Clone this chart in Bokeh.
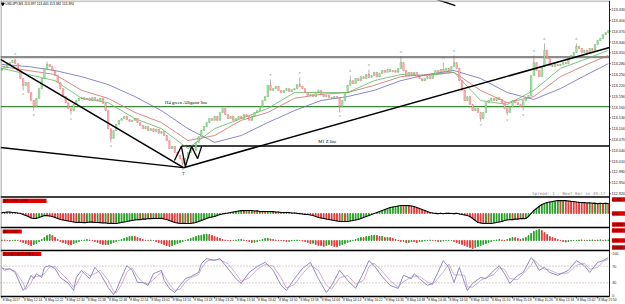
from bokeh.plotting import figure
from bokeh.models import Range1d
from bokeh.core.properties import value
from bokeh.embed import file_html
from bokeh.resources import INLINE

# ---------------- data ----------------
chart_title = "USDJPY,M1  113.397 113.405 113.381 113.394"
spread_text = "Spread: 1 ;  Next Bar in 49:17"
first_open = 113.262
closes = [
    113.267, 113.272, 113.278, 113.283, 113.289, 113.280, 113.261, 113.239, 113.220, 113.228,
    113.200, 113.178, 113.161, 113.184, 113.211, 113.239, 113.267, 113.278, 113.272, 113.261,
    113.247, 113.228, 113.211, 113.189, 113.172, 113.156, 113.150, 113.167, 113.178, 113.184,
    113.186, 113.181, 113.184, 113.178, 113.186, 113.181, 113.178, 113.184, 113.170, 113.150,
    113.100, 113.073, 113.095, 113.112, 113.123, 113.128, 113.134, 113.125, 113.120, 113.123,
    113.128, 113.117, 113.109, 113.100, 113.106, 113.095, 113.100, 113.092, 113.098, 113.087,
    113.092, 113.081, 113.067, 113.045, 113.051, 113.034, 113.026, 113.017, 113.004, 113.017,
    113.034, 113.045, 113.040, 113.062, 113.078, 113.095, 113.106, 113.117, 113.128, 113.123,
    113.134, 113.123, 113.145, 113.156, 113.139, 113.128, 113.134, 113.123, 113.128, 113.134,
    113.128, 113.139, 113.134, 113.123, 113.134, 113.145, 113.150, 113.161, 113.178, 113.189,
    113.220, 113.206, 113.211, 113.217, 113.206, 113.200, 113.206, 113.211, 113.203, 113.208,
    113.211, 113.222, 113.217, 113.211, 113.200, 113.192, 113.195, 113.189, 113.200, 113.206,
    113.195, 113.189, 113.192, 113.186, 113.184, 113.189, 113.186, 113.161, 113.178, 113.200,
    113.220, 113.233, 113.225, 113.239, 113.233, 113.244, 113.239, 113.250, 113.242, 113.247,
    113.256, 113.244, 113.253, 113.261, 113.256, 113.264, 113.258, 113.261, 113.256, 113.267,
    113.283, 113.261, 113.247, 113.256, 113.250, 113.256, 113.244, 113.239, 113.233, 113.239,
    113.244, 113.239, 113.250, 113.261, 113.256, 113.264, 113.258, 113.267, 113.261, 113.272,
    113.283, 113.267, 113.233, 113.206, 113.178, 113.189, 113.167, 113.150, 113.156, 113.145,
    113.128, 113.145, 113.172, 113.178, 113.184, 113.178, 113.186, 113.181, 113.172, 113.156,
    113.145, 113.161, 113.178, 113.172, 113.167, 113.161, 113.178, 113.186, 113.192, 113.247,
    113.283, 113.261, 113.244, 113.272, 113.317, 113.294, 113.275, 113.272, 113.278, 113.275,
    113.278, 113.283, 113.280, 113.294, 113.303, 113.311, 113.328, 113.322, 113.311, 113.317,
    113.311, 113.322, 113.317, 113.333, 113.344, 113.350, 113.361, 113.366, 113.372,
]

alligator_bars = [0, 10, 20, 30, 40, 50, 60, 70, 80, 90, 100, 110, 120, 130, 140, 150,
                  160, 170, 180, 190, 200, 210, 220, 228]
jaw = [113.278, 113.272, 113.261, 113.244, 113.222, 113.189, 113.150, 113.100, 113.062, 113.081,
       113.117, 113.150, 113.178, 113.189, 113.206, 113.233, 113.250, 113.261, 113.239, 113.200,
       113.181, 113.211, 113.250, 113.280]
teeth = [113.272, 113.261, 113.250, 113.206, 113.184, 113.145, 113.117, 113.067, 113.081, 113.123,
         113.145, 113.184, 113.195, 113.200, 113.220, 113.244, 113.250, 113.256, 113.206, 113.172,
         113.189, 113.244, 113.278, 113.303]
lips = [113.267, 113.250, 113.233, 113.184, 113.172, 113.128, 113.100, 113.045, 113.100, 113.128,
        113.156, 113.200, 113.200, 113.200, 113.233, 113.250, 113.247, 113.256, 113.178, 113.167,
        113.206, 113.267, 113.294, 113.317]

level_gray = 113.298
level_green = 113.161
level_z = 113.052
level_green_text = "H4 green Alligator line"
level_z_text = "M1 Z line"

down_line_bars = [-0.5, 68.3]
down_line_prices = [113.292, 112.992]
up_line_bars = [68.3, 228.45]
up_line_prices = [112.992, 113.325]
base_line_bars = [-0.5, 68.3]
base_line_prices = [113.048, 112.992]
zigzag_bars = [64.9, 67.5, 69.0, 71.3, 73.6, 75.1]
zigzag_prices = [113.012, 113.051, 112.995, 113.051, 113.017, 113.051]
z_line_start_bar = 67.5
top_line_bars = [163.0, 170.5]
top_line_prices = [113.459, 113.441]
t_label_bar = 68.3
t_label_price = 112.975

frac_up_bars = [5, 17, 101, 112, 131, 138, 150, 166, 170, 200, 204, 216]
frac_up_prices = [113.294, 113.286, 113.236, 113.242, 113.247, 113.264, 113.300, 113.283,
                  113.303, 113.303, 113.336, 113.336]
frac_dn_bars = [8, 12, 26, 41, 68, 127, 180, 190, 196]
frac_dn_prices = [113.206, 113.150, 113.139, 113.062, 112.998, 113.145, 113.120, 113.136, 113.150]

ao = [
    0.003, 0.003, 0.0045, 0.0045, 0.003, 0.003, 0.0015, 0.0003, -0.003, -0.006,
    -0.009, -0.0135, -0.015, -0.0145, -0.012, -0.009, -0.006, -0.0065, -0.0075, -0.009,
    -0.012, -0.015, -0.018, -0.0195, -0.021, -0.0225, -0.024, -0.0255, -0.027, -0.0265,
    -0.027, -0.0275, -0.027, -0.0255, -0.026, -0.027, -0.0268, -0.0275, -0.0285, -0.028,
    -0.030, -0.0295, -0.030, -0.0298, -0.0285, -0.027, -0.0255, -0.024, -0.0225, -0.021,
    -0.0195, -0.018, -0.0185, -0.0165, -0.017, -0.015, -0.0155, -0.0148, -0.0152, -0.015,
    -0.0145, -0.0165, -0.018, -0.021, -0.024, -0.027, -0.0285, -0.030, -0.0295, -0.030,
    -0.0298, -0.030, -0.0285, -0.027, -0.024, -0.021, -0.018, -0.015, -0.012, -0.0105,
    -0.009, -0.006, -0.003, -0.0015, 0.0003, 0.0015, 0.003, 0.0045, 0.006, 0.0075,
    0.009, 0.0085, 0.009, 0.0088, 0.0092, 0.0075, 0.0078, 0.006, 0.0062, 0.0058,
    0.006, 0.0062, 0.0057, 0.0045, 0.0047, 0.003, 0.0032, 0.0028, 0.003, 0.0015,
    0.0017, 0.0003, -0.0003, -0.0015, -0.003, -0.0028, -0.0045, -0.006, -0.009, -0.012,
    -0.0135, -0.015, -0.0165, -0.018, -0.0195, -0.021, -0.0225, -0.024, -0.0238, -0.0242,
    -0.024, -0.0225, -0.021, -0.0195, -0.018, -0.015, -0.012, -0.009, -0.006, -0.003,
    0.0003, 0.003, 0.006, 0.009, 0.012, 0.015, 0.018, 0.0195, 0.021, 0.0225,
    0.024, 0.0238, 0.0242, 0.0236, 0.0225, 0.021, 0.018, 0.015, 0.012, 0.009,
    0.006, 0.003, 0.0015, 0.0005, -0.0005, 0.001, -0.001, 0.0005, 0.0008, 0.0002,
    -0.0005, 0.0005, -0.0015, -0.003, -0.0045, -0.006, -0.009, -0.015, -0.021, -0.027,
    -0.0285, -0.030, -0.0295, -0.030, -0.0298, -0.0285, -0.027, -0.0255, -0.024, -0.021,
    -0.0195, -0.018, -0.0183, -0.0165, -0.0168, -0.015, -0.0153, -0.0148, -0.009, 0.0003,
    0.009, 0.015, 0.021, 0.027, 0.030, 0.033, 0.0345, 0.036, 0.0375, 0.039,
    0.0385, 0.039, 0.0385, 0.0375, 0.0365, 0.036, 0.0345, 0.0335, 0.033, 0.0325,
    0.0315, 0.032, 0.0305, 0.031, 0.0295, 0.0305, 0.030, 0.0305, 0.030,
]

ac = [
    0.001, 0.001, 0.0002, -0.001, 0.0002, 0.001, 0.0002, -0.002, -0.004, -0.006,
    -0.008, -0.010, -0.008, -0.006, -0.002, 0.002, 0.006, 0.010, 0.012, 0.010,
    0.006, 0.002, -0.002, -0.004, -0.006, -0.008, -0.0085, -0.006, -0.004, -0.002,
    0.0003, 0.001, 0.002, 0.001, -0.0003, -0.002, -0.004, -0.006, -0.008, -0.0085,
    -0.008, -0.006, -0.004, -0.002, 0.0003, 0.002, 0.004, 0.006, 0.008, 0.0085,
    0.008, 0.006, 0.004, 0.002, 0.0004, 0.0002, 0.001, -0.0003, -0.002, -0.004,
    -0.006, -0.008, -0.010, -0.012, -0.010, -0.008, -0.006, -0.004, -0.002, 0.0003,
    0.002, 0.004, 0.006, 0.008, 0.010, 0.0105, 0.012, 0.0125, 0.012, 0.010,
    0.008, 0.006, 0.004, 0.002, 0.001, -0.0003, -0.001, -0.0002, 0.001, 0.002,
    0.0022, 0.001, -0.0003, -0.002, -0.004, -0.0035, -0.002, 0.0003, 0.002, 0.004,
    0.0045, 0.003, 0.002, 0.001, 0.0003, -0.0003, -0.001, -0.002, -0.0018, -0.001,
    0.0003, 0.001, 0.0002, -0.001, -0.002, -0.004, -0.006, -0.0055, -0.008, -0.010,
    -0.010, -0.012, -0.010, -0.008, -0.010, -0.012, -0.0125, -0.010, -0.008, -0.006,
    -0.004, -0.002, 0.0003, 0.002, 0.004, 0.006, 0.0058, 0.008, 0.0085, 0.010,
    0.0105, 0.010, 0.008, 0.0085, 0.006, 0.0062, 0.0058, 0.004, 0.002, 0.0003,
    -0.002, -0.0018, -0.004, -0.0038, -0.002, -0.0022, -0.004, -0.002, -0.0018, -0.001,
    0.0003, 0.001, 0.0002, -0.001, -0.002, -0.0018, -0.001, 0.0002, 0.0003, -0.0002,
    -0.002, -0.004, -0.006, -0.008, -0.010, -0.012, -0.014, -0.016, -0.014, -0.012,
    -0.010, -0.008, -0.006, -0.004, -0.002, 0.0003, 0.001, 0.002, 0.001, -0.0003,
    0.002, 0.004, 0.006, 0.0058, 0.004, 0.002, 0.004, 0.006, 0.010, 0.014,
    0.018, 0.020, 0.022, 0.020, 0.016, 0.012, 0.008, 0.006, 0.004, 0.002,
    0.0003, -0.002, -0.003, -0.002, -0.001, 0.0002, 0.0003, 0.001, 0.0012, 0.0002,
    0.0003, 0.001, 0.0012, 0.0003, 0.001, 0.0013, 0.0004, 0.001, 0.0012,
]

stoch_bars = [0, 1, 3, 5, 8, 9, 11, 12, 13, 15,
              16, 18, 20, 22, 25, 27, 28, 30, 31, 33,
              35, 37, 40, 42, 43, 45, 47, 49, 51, 53,
              55, 57, 60, 61, 63, 65, 67, 69, 71, 74,
              75, 77, 80, 82, 85, 88, 90, 93, 96, 99,
              102, 105, 107, 110, 113, 116, 119, 122, 124, 127,
              130, 133, 136, 138, 140, 143, 146, 149, 151, 154,
              155, 157, 160, 162, 166, 168, 170, 172, 174, 175,
              177, 180, 182, 185, 187, 189, 191, 194, 196, 199,
              200, 202, 204, 206, 209, 213, 216, 219, 221, 224,
              226, 228]
stoch_main = [67, 60, 64, 55, 12, 19, 48, 40, 52, 43,
              67, 71, 64, 43, 29, 12, 43, 60, 52, 40,
              67, 52, 19, 2, 12, 43, 71, 60, 31, 31,
              24, 52, 60, 36, 17, 7, 24, 40, 45, 55,
              76, 88, 83, 88, 64, 40, 29, 55, 69, 79,
              60, 24, 12, 40, 64, 79, 40, 7, 24, 60,
              36, 17, 55, 83, 71, 45, 24, 17, 48, 40,
              52, 40, 24, 29, 83, 67, 31, 67, 29, 12,
              29, 43, 40, 60, 71, 52, 29, 48, 55, 90,
              83, 60, 67, 55, 48, 60, 83, 71, 55, 79,
              83, 90]
stoch_signal = [65, 64, 62, 58, 30, 14, 30, 45, 45, 48,
                52, 68, 69, 55, 36, 20, 25, 50, 57, 47,
                52, 60, 36, 10, 6, 26, 56, 66, 45, 31,
                28, 38, 56, 48, 26, 12, 15, 32, 42, 50,
                64, 82, 86, 85, 76, 52, 34, 42, 62, 74,
                70, 42, 18, 26, 52, 72, 60, 24, 15, 42,
                48, 27, 36, 69, 77, 58, 35, 20, 33, 44,
                46, 46, 32, 26, 56, 75, 49, 49, 48, 20,
                20, 36, 42, 50, 66, 62, 40, 38, 52, 72,
                86, 72, 63, 61, 52, 54, 72, 77, 63, 67,
                81, 86]
stoch_levels = [70, 30]

price_tick_values = [113.430, 113.400, 113.370, 113.340, 113.310, 113.280, 113.250, 113.220,
                     113.190, 113.160, 113.130, 113.100, 113.070, 113.040, 113.010, 112.980,
                     112.950, 112.920]
price_tick_labels = ["113.430", "113.400", "113.370", "113.340", "113.310", "113.280", "113.250",
                     "113.220", "113.190", "113.160", "113.130", "113.100", "113.070", "113.040",
                     "113.010", "112.980", "112.950", "112.920"]
ao_scale_values = [0.042, 0.0, -0.033]
ao_scale_labels = ["0.0420", "0.00", "-0.0330"]
ac_scale_values = [0.020, 0.0, -0.014]
ac_scale_labels = ["0.0200", "0.00", "-0.0140"]
stoch_scale_values = [100, 70, 30, 0]
stoch_scale_labels = ["100", "70", "30", "0"]
ao_name = "AO 0.0300 0.0305"
ac_name = "AC 0.0012"
stoch_name = "Stoch(8,3,3) 90.0 86.0"

time_tick_bars = [0, 8, 16, 24, 32, 40, 48, 56, 64, 72, 80, 88, 96, 104, 112, 120, 128,
                  136, 144, 152, 160, 168, 176, 184, 192, 200, 208, 216, 224]
time_tick_labels = ["8 May 2017", "8 May 12:14", "8 May 12:22", "8 May 12:30", "8 May 12:38",
                    "8 May 12:46", "8 May 12:54", "8 May 13:02", "8 May 13:10", "8 May 13:18",
                    "8 May 13:26", "8 May 13:34", "8 May 13:42", "8 May 13:50", "8 May 13:58",
                    "8 May 14:06", "8 May 14:14", "8 May 14:22", "8 May 14:30", "8 May 14:38",
                    "8 May 14:46", "8 May 14:54", "8 May 15:02", "8 May 15:10", "8 May 15:18",
                    "8 May 15:26", "8 May 15:34", "8 May 15:42", "8 May 15:50"]

# ---------------- layout constants ----------------
W, H = 625, 304
PX_PER_BAR = 2.66
X0 = -0.5
X1 = X0 + W / PX_PER_BAR
RIGHT = 228.45          # right edge of the chart area (bar units)
LBL_X = 229.2           # x of scale labels
SEP = [196.5, 227.0, 250.0, 296.0]  # panel separators (pixel rows)

SANS = value("Liberation Sans")
SERIF = value("Liberation Serif")
MONO = value("DejaVu Sans Mono")

p = figure(width=W, height=H, x_range=Range1d(X0, X1),
           y_range=Range1d(112.613, 113.455),
           toolbar_location=None, output_backend="svg", min_border=0,
           x_axis_location=None, y_axis_location=None,
           outline_line_color=None, background_fill_color="white",
           border_fill_color="white")
p.grid.visible = False
p.extra_y_ranges = {
    "ao": Range1d(-0.273, 0.639),
    "ac": Range1d(-0.128, 0.48),
    "st": Range1d(-21.43, 702.38),
    "px": Range1d(304, 0),
}

bars = list(range(len(closes)))
opens = [first_open] + closes[:-1]

# ---- main panel ----
p.segment(x0=[X0], y0=[level_gray], x1=[RIGHT], y1=[level_gray], line_color="#8c8c8c", line_width=2.2)
p.segment(x0=[X0], y0=[level_green], x1=[RIGHT], y1=[level_green], line_color="#3b8a3b", line_width=1.4)
p.segment(x0=[z_line_start_bar], y0=[level_z], x1=[RIGHT], y1=[level_z], line_color="black", line_width=1.5)

p.line(alligator_bars, jaw, line_color="#6a6abf", line_width=0.8)
p.line(alligator_bars, teeth, line_color="#d06a6a", line_width=0.8)
p.line(alligator_bars, lips, line_color="#5cb85c", line_width=0.8)

bx, btop, bbot, bx2, rtop, rbot = [], [], [], [], [], []
for i, (o, c) in enumerate(zip(opens, closes)):
    if c >= o:
        bx.append(i); btop.append(c); bbot.append(o)
    else:
        bx2.append(i); rtop.append(o); rbot.append(c)
p.vbar(x=bx, width=0.5, top=btop, bottom=bbot, fill_color="#d4f0d4", line_color="#3aa83a", line_width=0.5)
p.vbar(x=bx2, width=0.5, top=rtop, bottom=rbot, fill_color="#fbd6d6", line_color="#e05050", line_width=0.5)

# fractal wicks + arrows
p.segment(x0=frac_up_bars, y0=[max(opens[b], closes[b]) for b in frac_up_bars],
          x1=frac_up_bars, y1=frac_up_prices, line_color="#666666", line_width=0.5)
p.segment(x0=frac_dn_bars, y0=[min(opens[b], closes[b]) for b in frac_dn_bars],
          x1=frac_dn_bars, y1=frac_dn_prices, line_color="#666666", line_width=0.5)
p.text(x=frac_up_bars, y=frac_up_prices, text=["^"] * len(frac_up_bars), text_font=SANS,
       text_font_size="5px", text_color="#8a8a8a", text_align="center", text_baseline="bottom", y_offset=-0.5)
p.text(x=frac_dn_bars, y=frac_dn_prices, text=["v"] * len(frac_dn_bars), text_font=SANS,
       text_font_size="4px", text_color="#8a8a8a", text_align="center", text_baseline="top", y_offset=1)

# trend lines
p.line(down_line_bars, down_line_prices, line_color="black", line_width=1.6)
p.line(up_line_bars, up_line_prices, line_color="black", line_width=1.6)
p.line(base_line_bars, base_line_prices, line_color="black", line_width=1.4)
p.line(zigzag_bars, zigzag_prices, line_color="black", line_width=1.3)
p.line(top_line_bars, top_line_prices, line_color="black", line_width=1.4)

p.text(x=[69.4], y=[level_green], text=[level_green_text], text_font=SERIF, text_font_size="4.6px",
       text_color="black", text_align="center", text_baseline="bottom", y_offset=-2)
p.text(x=[122.4], y=[level_z], text=[level_z_text], text_font=SERIF, text_font_size="4.6px",
       text_color="black", text_align="center", text_baseline="bottom", y_offset=-2)
p.text(x=[t_label_bar], y=[t_label_price], text=["T"], text_font=SERIF, text_font_size="4.6px",
       text_color="#333333", text_align="center", text_baseline="middle")

# price scale
p.text(x=[LBL_X] * len(price_tick_values), y=price_tick_values, text=price_tick_labels,
       text_font=SANS, text_font_size="3.9px", text_color="#222222", text_baseline="middle")
p.segment(x0=[RIGHT] * len(price_tick_values), y0=price_tick_values,
          x1=[RIGHT + 0.5] * len(price_tick_values), y1=price_tick_values, line_color="black", line_width=0.6)

# title & spread info
p.scatter(x=[0.35], y=[3.4], marker="inverted_triangle", size=3, color="black", y_range_name="px")
p.text(x=[1.3], y=[3.5], text=[chart_title], text_font=SANS, text_font_size="3.3px",
       text_color="black", text_baseline="middle", y_range_name="px")
p.text(x=[227.8], y=[193], text=[spread_text], text_font=MONO, text_font_size="4.2px",
       text_color="#8c8c8c", text_align="right", text_baseline="middle", y_range_name="px")

# ---- AO panel ----
ao_colors = ["#2aa02a"] + ["#2aa02a" if ao[i] > ao[i - 1] else "#e03c3c" for i in range(1, len(ao))]
p.vbar(x=bars, width=0.3, top=ao, bottom=0, color=ao_colors, y_range_name="ao")
p.line(bars, ao, line_color="black", line_width=1.1, y_range_name="ao")

# ---- AC panel ----
ac_colors = ["#2aa02a"] + ["#2aa02a" if ac[i] > ac[i - 1] else "#e03c3c" for i in range(1, len(ac))]
p.vbar(x=bars, width=0.3, top=ac, bottom=0, color=ac_colors, y_range_name="ac")

# ---- Stochastic panel ----
for lv in stoch_levels:
    p.segment(x0=[X0], y0=[lv], x1=[RIGHT], y1=[lv], line_color="#b08080", line_width=0.8,
              line_dash="1 2", y_range_name="st")
p.line(stoch_bars, stoch_signal, line_color="#caa6ce", line_width=0.9, y_range_name="st")
p.line(stoch_bars, stoch_main, line_color="#8080bc", line_width=0.9, y_range_name="st")

# ---- panel frames ----
for s in SEP:
    p.segment(x0=[X0], y0=[s], x1=[RIGHT], y1=[s], line_color="black", line_width=1.4, y_range_name="px")
p.segment(x0=[X0], y0=[0.5], x1=[RIGHT], y1=[0.5], line_color="#8c8c8c", line_width=1, y_range_name="px")
p.segment(x0=[RIGHT], y0=[0], x1=[RIGHT], y1=[296], line_color="black", line_width=0.9, y_range_name="px")
p.segment(x0=[-0.32], y0=[0], x1=[-0.32], y1=[296], line_color="#666666", line_width=0.8, y_range_name="px")

# indicator name boxes (top-left of sub panels)
p.quad(left=[0.3, 0.3, 0.3], right=[16.8, 7.5, 14.8], top=[198.2, 229.0, 251.6], bottom=[202.4, 233.0, 255.6],
       fill_color="#e00000", line_color=None, y_range_name="px")
p.text(x=[0.6, 0.6, 0.6], y=[200.3, 231.0, 253.6], text=[ao_name, ac_name, stoch_name], text_font=SANS,
       text_font_size="3px", text_color="#3a0000", text_baseline="middle", y_range_name="px")

# sub panel scales
p.rect(x=[231.9] * 3, y=ao_scale_values, width=5.0, height=4.4, height_units="screen",
       fill_color="#e00000", line_color=None, y_range_name="ao")
p.text(x=[LBL_X + 0.1] * 3, y=ao_scale_values, text=ao_scale_labels, text_font=SANS, text_font_size="3.2px",
       text_color="#2a0000", text_baseline="middle", y_range_name="ao")
p.rect(x=[231.9] * 3, y=ac_scale_values, width=5.0, height=4.4, height_units="screen",
       fill_color="#e00000", line_color=None, y_range_name="ac")
p.text(x=[LBL_X + 0.1] * 3, y=ac_scale_values, text=ac_scale_labels, text_font=SANS, text_font_size="3.2px",
       text_color="#2a0000", text_baseline="middle", y_range_name="ac")
p.text(x=[LBL_X + 0.3] * 4, y=stoch_scale_values, text=stoch_scale_labels, text_font=SANS,
       text_font_size="3.6px", text_color="#222222", text_baseline="middle", y_range_name="st")

# time axis
p.segment(x0=time_tick_bars, y0=[296] * len(time_tick_bars), x1=time_tick_bars, y1=[298] * len(time_tick_bars),
          line_color="black", line_width=0.6, y_range_name="px")
p.text(x=[b + 0.3 for b in time_tick_bars], y=[299.8] * len(time_tick_bars), text=time_tick_labels,
       text_font=SANS, text_font_size="3.3px", text_color="#222222", text_baseline="middle",
       y_range_name="px")

open("out.html", "w").write(file_html(p, INLINE))
